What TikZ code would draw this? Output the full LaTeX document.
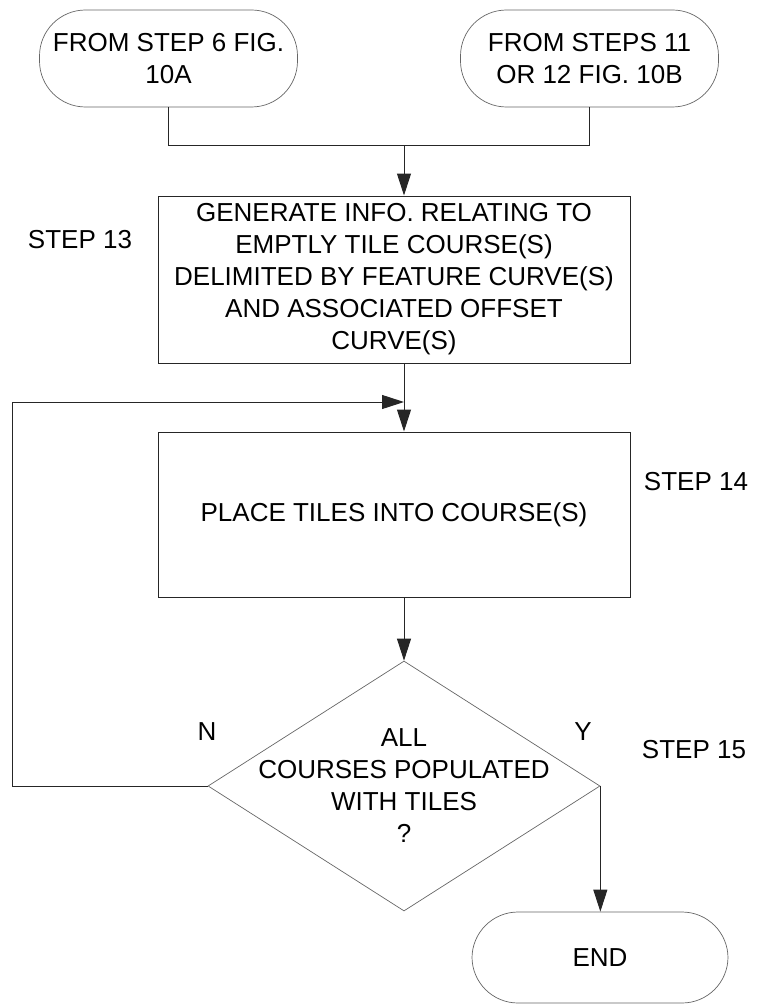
\documentclass[tikz,border=0pt]{standalone}
\usepackage{fontspec}
\setmainfont{Liberation Sans}
\usetikzlibrary{shapes.geometric,arrows.meta,calc}
\begin{document}
\begin{tikzpicture}[x=1pt,y=-1pt,
  every node/.style={font=\fontsize{26}{32}\selectfont, align=center, inner sep=0pt},
  proc/.style={draw=black!85, line width=1pt, minimum width=472pt},
  term/.style={draw=black!60, line width=0.7pt, rounded corners=46pt, minimum width=258pt},
  decision/.style={draw=black!60, line width=0.7pt, diamond, minimum width=392pt, minimum height=250pt},
  conn/.style={draw=black!85, line width=1pt},
  arr/.style={conn, -{Triangle[length=22pt,width=14pt]}},
  lbl/.style={}
]
\useasboundingbox (0,0) rectangle (756,1006);

% terminals
\node[term, minimum height=97pt] (t1) at (168.5,58.5) {FROM STEP 6 FIG.\\10A};
\node[term, minimum height=97pt] (t2) at (589.5,58.5) {FROM STEPS 11\\OR 12 FIG. 10B};

% process boxes
\node[proc, minimum height=167pt] (s13) at (394,279.5) {GENERATE INFO. RELATING TO\\EMPTLY TILE COURSE(S)\\DELIMITED BY FEATURE CURVE(S)\\AND ASSOCIATED OFFSET\\CURVE(S)};
\node[proc, minimum height=165pt] (s14) at (394,514.5) {PLACE TILES INTO COURSE(S)};

% decision
\node[decision] (d) at (404,786) {};
\node (dt) at (404,786) {ALL\\COURSES POPULATED\\WITH TILES\\?};

% end
\node[term, minimum height=91pt, minimum width=256pt] (e) at (600,957.5) {END};

% labels
\node[lbl] (l13) at (80,240) {STEP 13};
\node[lbl] (l14) at (696,482) {STEP 14};
\node[lbl] (l15) at (694,750) {STEP 15};
\node[lbl] (ln) at (207,732) {N};
\node[lbl] (ly) at (583,732) {Y};

% connectors
\coordinate (j1) at (t1.south |- 0,145);
\coordinate (j2) at (t2.south |- 0,145);
\coordinate (jm) at (d.north |- 0,145);
\draw[conn] (t1.south) -- (j1) -- (j2) -- (t2.south);
\draw[arr] (jm) -- (s13.north -| d.north);
\draw[arr] (s13.south -| d.north) -- (s14.north -| d.north);
\draw[arr] (s14.south -| d.north) -- (d.north);

\coordinate (lp1) at (12,786);
\coordinate (lp2) at (12,402);
\coordinate (lp3) at (d.north |- 0,402);
\draw[arr] (d.west) -- (lp1) -- (lp2) -- (lp3);

\draw[arr] (d.east) -- (e.north -| d.east);
\end{tikzpicture}
\end{document}
